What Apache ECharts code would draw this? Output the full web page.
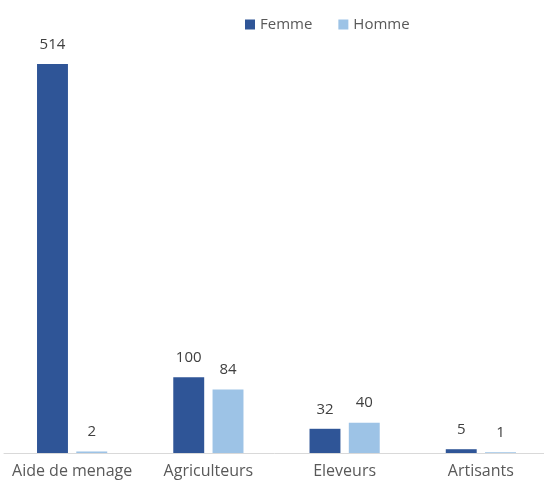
<!DOCTYPE html>
<html><head><meta charset="utf-8">
<script src="https://cdn.jsdelivr.net/npm/echarts@6/dist/echarts.min.js"></script>
<style>html,body{margin:0;padding:0;background:#fff}#c{width:544px;height:485px}</style>
</head><body><div id="c"></div>
<script>
const categories = ['Aide de menage', 'Agriculteurs', 'Eleveurs', 'Artisants'];
const femme = [514, 100, 32, 5];
const homme = [2, 84, 40, 1];
const chart = echarts.init(document.getElementById('c'));
const font = '"Open Sans", "Noto Sans", sans-serif';
chart.setOption({
  animation: false,
  textStyle: { fontFamily: font },
  legend: {
    left: 240, top: 12, itemWidth: 10, itemHeight: 10, itemGap: 26,
    icon: 'rect',
    textStyle: { fontSize: 15, color: '#595959', fontFamily: font },
    data: ['Femme', 'Homme']
  },
  grid: { left: 4, width: 545, top: -1, bottom: 32, outerBoundsMode: 'none', containLabel: false },
  xAxis: {
    type: 'category', data: categories,
    axisLine: { lineStyle: { color: '#D9D9D9', width: 1 } },
    axisTick: { show: false },
    axisLabel: { fontSize: 16, color: '#595959', margin: 10, interval: 0, fontFamily: font }
  },
  yAxis: { type: 'value', min: 0, max: 600, show: false, splitLine: { show: false } },
  series: [
    { name: 'Femme', type: 'bar', data: femme, barWidth: '22.7%', barGap: '27%',
      itemStyle: { color: '#2F5597' },
      label: { show: true, position: 'top', distance: 12, fontSize: 15, color: '#404040', fontFamily: font } },
    { name: 'Homme', type: 'bar', data: homme, barWidth: '22.7%',
      itemStyle: { color: '#9DC3E6' },
      label: { show: true, position: 'top', distance: 12, fontSize: 15, color: '#404040', fontFamily: font } }
  ]
});
</script></body></html>
